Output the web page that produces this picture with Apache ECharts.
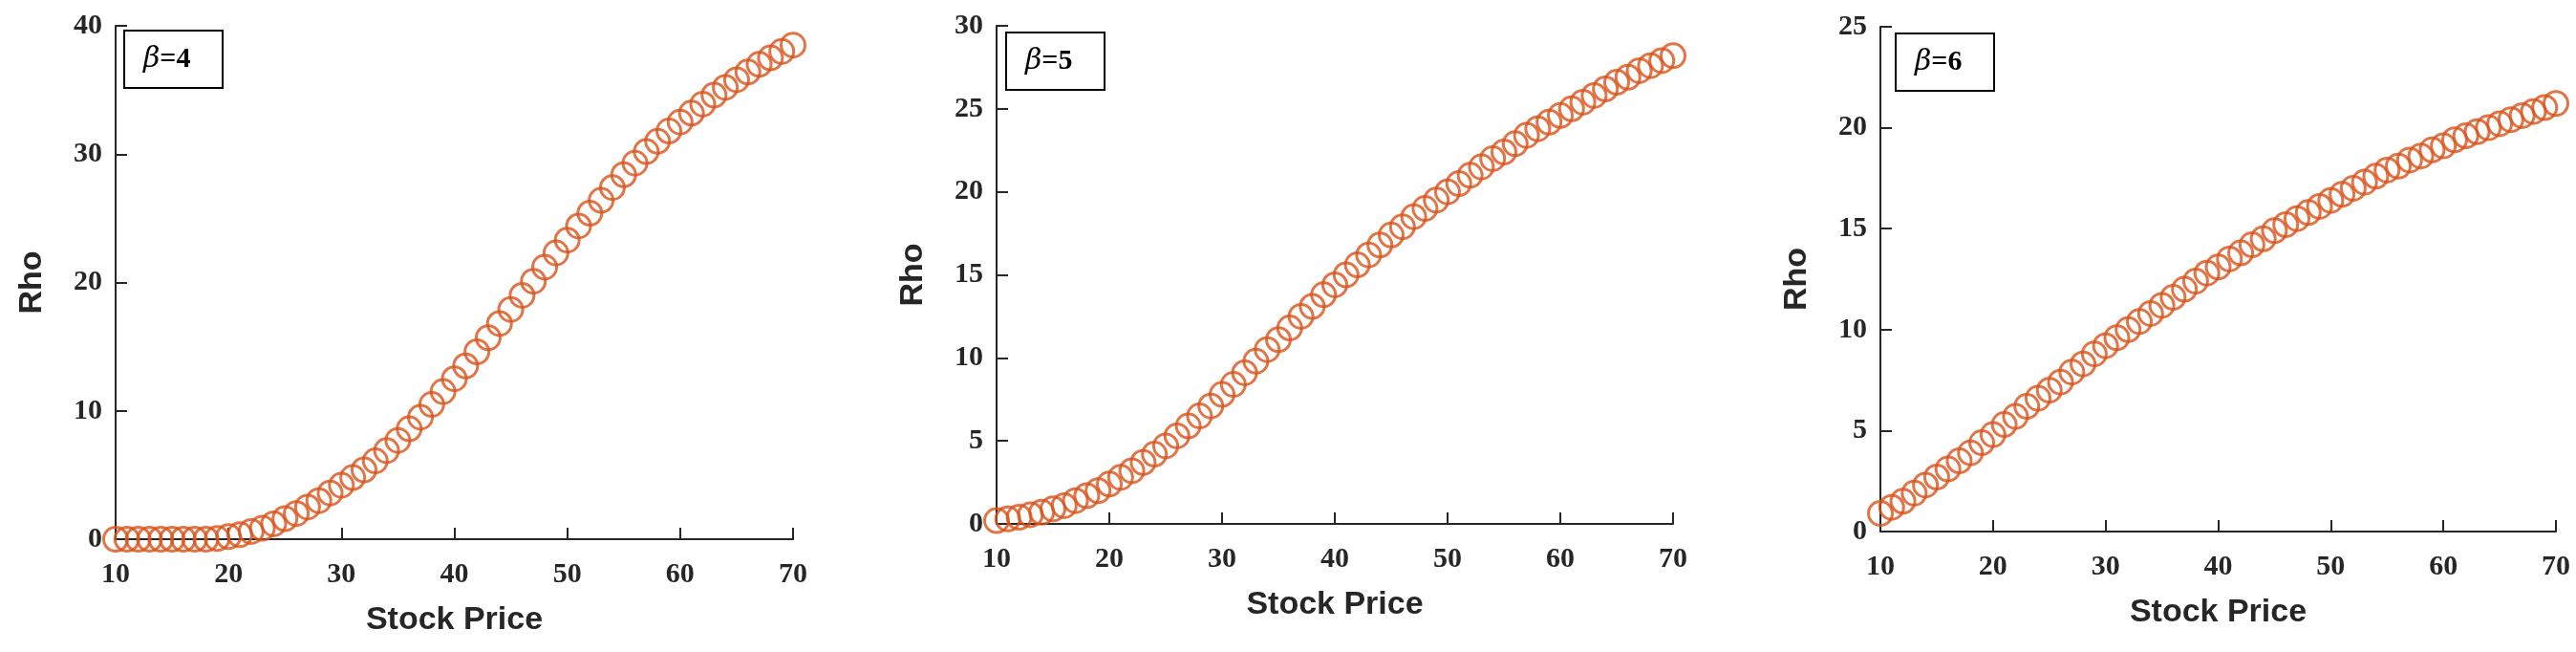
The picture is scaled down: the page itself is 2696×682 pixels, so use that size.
<!DOCTYPE html>
<html><head><meta charset="utf-8">
<script src="https://cdn.jsdelivr.net/npm/echarts@6/dist/echarts.min.js"></script>
<style>html,body{margin:0;padding:0;background:#fff}#c{width:2696px;height:682px}</style>
</head><body><div id="c"></div>
<script>
const stockPrice = [];
for (let s = 10; s <= 70; s++) stockPrice.push(s);
const betaLabels = ['4', '5', '6'];
const yMax = [40, 30, 25];
const yInterval = [10, 5, 5];
const rhoBeta4 = [0,0,0,0,0,0,0,0,0,0.05,0.2,0.35,0.6,0.85,1.2,1.6,2.0,2.5,3.0,3.6,4.2,4.8,5.4,6.1,6.9,7.7,8.6,9.5,10.5,11.5,12.5,13.5,14.6,15.7,16.8,17.9,19.0,20.1,21.2,22.3,23.3,24.4,25.4,26.4,27.4,28.4,29.3,30.2,31.0,31.8,32.5,33.2,33.9,34.6,35.2,35.8,36.4,37.0,37.5,38.0,38.5];
const rhoBeta5 = [0.2,0.3,0.4,0.55,0.7,0.9,1.1,1.4,1.7,2.0,2.4,2.8,3.2,3.7,4.2,4.7,5.3,5.9,6.5,7.1,7.8,8.4,9.1,9.8,10.5,11.1,11.8,12.5,13.1,13.8,14.4,15.0,15.6,16.2,16.8,17.4,17.9,18.5,19.0,19.5,20.0,20.5,21.0,21.5,22.0,22.4,22.9,23.4,23.8,24.2,24.6,25.0,25.4,25.8,26.2,26.6,26.9,27.3,27.6,27.9,28.2];
const rhoBeta6 = [0.9,1.2,1.5,1.9,2.3,2.7,3.1,3.5,3.9,4.4,4.8,5.3,5.7,6.2,6.6,7.0,7.4,7.9,8.3,8.8,9.2,9.6,10.0,10.4,10.8,11.2,11.6,12.0,12.4,12.8,13.1,13.5,13.8,14.2,14.5,14.9,15.2,15.5,15.8,16.1,16.4,16.7,17.0,17.3,17.6,17.9,18.1,18.4,18.6,18.9,19.1,19.4,19.6,19.8,20.0,20.2,20.4,20.6,20.8,21.0,21.2];
const xTicks = [10,20,30,40,50,60,70];
const seriesData = [rhoBeta4, rhoBeta5, rhoBeta6];

const grids = [
  {left:121, width:709, top:27, bottom:118},
  {left:1043, width:708, top:27, bottom:134},
  {left:1968, width:707, top:28, bottom:126}
];
const boxes = [[129,31],[1052,33],[1983,34]];
const ink = '#262626';
const tickFont = {fontFamily:'Liberation Sans Narrow', fontWeight:'bold', fontSize:30, color:ink};
const nameFont = {fontFamily:'Liberation Sans', fontWeight:'bold', fontSize:34, color:ink};

const option = {
  animation:false,
  grid: grids,
  xAxis: grids.map((g,i)=>({
    gridIndex:i, type:'value', min:10, max:70, interval:10,
    name:'Stock Price', nameLocation:'middle', nameGap:68, nameTextStyle:nameFont,
    axisLine:{onZero:false, lineStyle:{color:ink, width:2}},
    axisTick:{inside:true, length:12, lineStyle:{color:ink, width:2}},
    axisLabel:Object.assign({margin:22}, tickFont),
    splitLine:{show:false}
  })),
  yAxis: grids.map((g,i)=>({
    gridIndex:i, type:'value', min:0, max:yMax[i], interval:yInterval[i],
    name:'Rho', nameLocation:'middle', nameGap:70, nameTextStyle:nameFont,
    axisLine:{show:true, lineStyle:{color:ink, width:2}},
    axisTick:{show:true, inside:true, length:12, lineStyle:{color:ink, width:2}},
    axisLabel:Object.assign({margin:14}, tickFont),
    splitLine:{show:false}
  })),
  series: seriesData.map((d,i)=>({
    type:'scatter', xAxisIndex:i, yAxisIndex:i,
    data: stockPrice.map((x,j)=>[x,d[j]]),
    symbol:'circle', symbolSize:25,
    itemStyle:{color:'rgba(0,0,0,0)', borderColor:'#D95319', borderWidth:3},
    clip:false
  })),
  graphic: boxes.map((b,i)=>({
    type:'group', left:b[0], top:b[1],
    children:[
      {type:'rect', shape:{x:0,y:0,width:103,height:60}, style:{fill:'#fff', stroke:'#000', lineWidth:2}},
      {type:'text', x:20, y:30, style:{
        text:'{b|β}{v|='+betaLabels[i]+'}', verticalAlign:'middle',
        rich:{
          b:{fontFamily:'DejaVu Serif', fontStyle:'italic', fontSize:30, fill:'#000', fontWeight:'normal'},
          v:{fontFamily:'Liberation Sans Narrow', fontWeight:'bold', fontSize:30, fill:'#000'}
        }}}
    ]
  }))
};
echarts.init(document.getElementById('c')).setOption(option);
</script></body></html>
